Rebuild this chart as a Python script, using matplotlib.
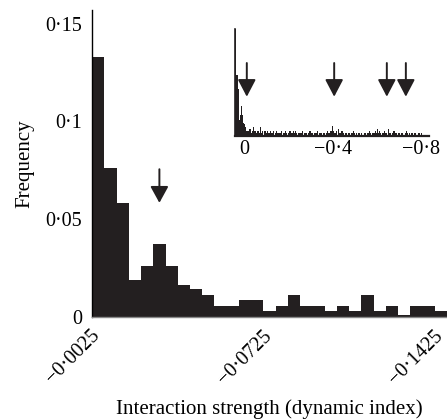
import numpy as np
import matplotlib
matplotlib.use("Agg")
import matplotlib.pyplot as plt
from matplotlib.transforms import ScaledTranslation

plt.rcParams['font.family'] = ['Liberation Serif', 'DejaVu Serif']

# ---- data ----
bin_width = 0.005
# main panel: frequency per 0.005 bin, from 0 down to -0.145
freq = [0.133, 0.076, 0.058, 0.019, 0.026, 0.037, 0.026, 0.016, 0.014, 0.011,
        0.0056, 0.0056, 0.0086, 0.0086, 0.003, 0.0056, 0.011, 0.0056, 0.0056, 0.003,
        0.0056, 0.003, 0.011, 0.003, 0.0056, 0.001, 0.0056, 0.0056, 0.003]
# inset: the same bins continue out to -0.845
tail = [0.0055, 0.0027, 0.0055, 0.0027, 0.0027, 0.0055, 0, 0.0027, 0.0055, 0.0027,
        0.0027, 0.0027, 0.0055, 0, 0.0027, 0.0027, 0.0055, 0.0027, 0, 0.0027,
        0.0055, 0.0027, 0.0027, 0.0055, 0.0027, 0.0055, 0.0027, 0, 0.0027, 0.0027,
        0.0027, 0.0055, 0, 0.0027, 0.0027, 0.0027, 0, 0.0027, 0.0055, 0.0027,
        0.0027, 0, 0.0027, 0.0027, 0.0027, 0.0055, 0, 0.0027, 0.0027, 0,
        0.0027, 0.0027, 0, 0.0027, 0.0055, 0.0027, 0.0027, 0.0055, 0.0123, 0.0055,
        0.0027, 0.0027, 0.0055, 0, 0.0082, 0.0027, 0.0027, 0.0055, 0.0027, 0,
        0.0027, 0.0027, 0, 0.0027, 0.0027, 0, 0.0027, 0.0055, 0.0027, 0,
        0.0027, 0, 0.0027, 0.0027, 0, 0.0027, 0, 0.0027, 0.0027, 0,
        0.0027, 0.0027, 0.0055, 0.0027, 0, 0.0027, 0.0027, 0.0055, 0.0027, 0.0082,
        0.0027, 0.0055, 0.0027, 0, 0.0027, 0.0055, 0.0027, 0.0027, 0, 0.0082,
        0.0027, 0.0027, 0, 0.0027, 0.0055, 0.0027, 0.0027, 0, 0.0027, 0.0027,
        0, 0.0027, 0.0027, 0, 0.0027, 0.0055, 0.0027, 0, 0.0027, 0,
        0.0027, 0.0027, 0, 0.0027, 0, 0, 0.0027, 0.0027, 0, 0.0027]

main_ticks = [-0.0025, -0.0725, -0.1425]
main_ticklabels = ['\u22120\u00b70025', '\u22120\u00b70725', '\u22120\u00b71425']
y_ticks = [0, 0.05, 0.1, 0.15]
y_ticklabels = ['0', '0\u00b705', '0\u00b71', '0\u00b715']
inset_ticks = [0, -0.4, -0.8]
inset_ticklabels = ['0', '\u22120\u00b74', '\u22120\u00b78']

main_arrow = -0.0275
inset_arrows = [-0.052, -0.447, -0.685, -0.771]

dark = '#231f20'

# ---- figure ----
fig = plt.figure(figsize=(4.47, 4.2), dpi=100)

ax = fig.add_axes([0.206, 0.246, 0.794, 0.73])
left = -np.arange(len(freq)) * bin_width
ax.bar(left, freq, width=-bin_width, align='edge', color=dark, linewidth=0)
ax.set_xlim(0, -0.145)
ax.set_ylim(0, 0.157)
for s in ['top', 'right']:
    ax.spines[s].set_visible(False)
ax.spines['left'].set_linewidth(1.0)
ax.spines['left'].set_color('black')
ax.spines['bottom'].set_linewidth(1.0)
ax.spines['bottom'].set_color('#888888')
ax.set_yticks(y_ticks)
ax.set_yticklabels(y_ticklabels)
ax.set_xticks(main_ticks)
ax.set_xticklabels(main_ticklabels, rotation=45, ha='right')
ax.tick_params(axis='both', length=0, labelsize=14.5)
ax.tick_params(axis='y', pad=7)
ax.tick_params(axis='x', pad=7)
xshift = ScaledTranslation(6 / 100, 0, fig.dpi_scale_trans)
for lbl in ax.get_xticklabels():
    lbl.set_transform(lbl.get_transform() + xshift)
ax.set_ylabel('Frequency', fontsize=15, labelpad=8)
ax.set_xlabel('Interaction strength (dynamic index)', fontsize=15, labelpad=8)

ax.annotate('', xy=(main_arrow, 0.0583), xytext=(main_arrow, 0.0755),
            arrowprops=dict(arrowstyle='-|>,head_length=1.0,head_width=0.55',
                            mutation_scale=10, lw=1.4, color=dark,
                            shrinkA=0, shrinkB=0))

# ---- inset ----
ins = fig.add_axes([0.5264, 0.677, 0.434, 0.2547])
all_freq = freq + tail
ileft = -np.arange(len(all_freq)) * bin_width
ins.bar(ileft, all_freq, width=-bin_width, align='edge', color=dark, linewidth=0)
ins.set_xlim(0, -0.877)
ins.set_ylim(0, 0.133)
for s in ['top', 'right']:
    ins.spines[s].set_visible(False)
ins.spines['left'].set_linewidth(1.2)
ins.spines['bottom'].set_linewidth(1.6)
ins.spines['left'].set_color(dark)
ins.spines['bottom'].set_color(dark)
ins.set_yticks([])
ins.set_xticks(inset_ticks)
ins.set_xticklabels(inset_ticklabels)
ins.tick_params(axis='x', length=0, labelsize=14.5, pad=3)
shift = ScaledTranslation(9 / 100, 0, fig.dpi_scale_trans)
for lbl in ins.get_xticklabels():
    lbl.set_transform(lbl.get_transform() + shift)

for xa in inset_arrows:
    ins.annotate('', xy=(xa, 0.364), xytext=(xa, 0.679),
                 xycoords=('data', 'axes fraction'), textcoords=('data', 'axes fraction'),
                 arrowprops=dict(arrowstyle='-|>,head_length=1.05,head_width=0.55',
                                 mutation_scale=10, lw=1.4, color=dark,
                                 shrinkA=0, shrinkB=0))

fig.savefig('out.png', dpi=100)
